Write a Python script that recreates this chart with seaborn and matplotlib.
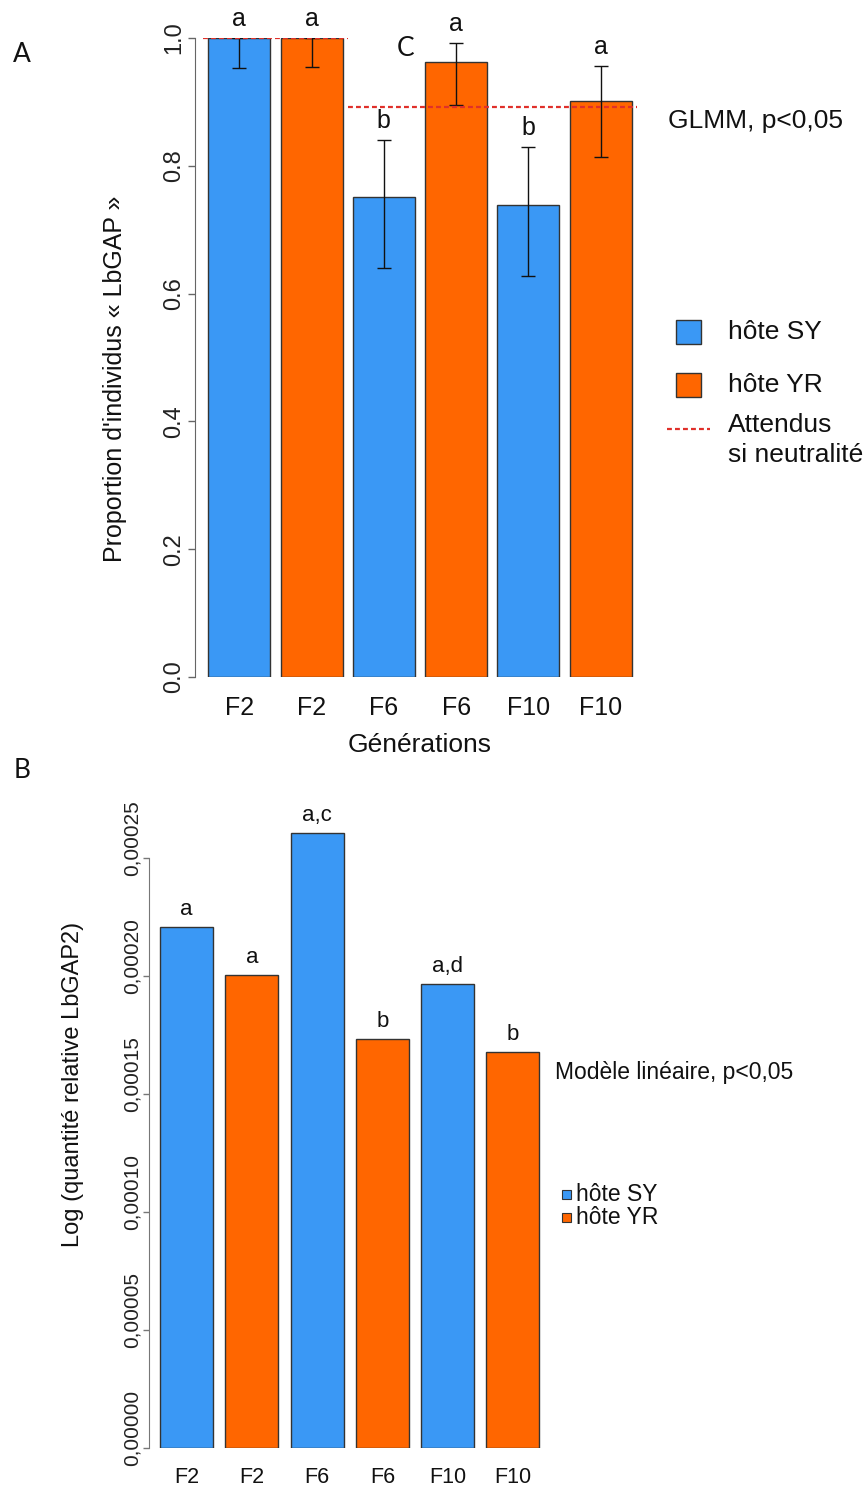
import matplotlib
matplotlib.use('Agg')
import matplotlib.pyplot as plt
from matplotlib.patches import Rectangle
from matplotlib.lines import Line2D
from matplotlib.transforms import ScaledTranslation
import pandas as pd
import seaborn as sns

generations = ['F2', 'F6', 'F10']
hotes = ['hôte SY', 'hôte YR']
couleurs = {'hôte SY': '#3A98F5', 'hôte YR': '#FF6600'}

# A : proportion d'individus "LbGAP" (+ IC)
prop_sy = [1.0, 0.751, 0.739]
prop_yr = [1.0, 0.962, 0.901]
bas_sy = [0.953, 0.640, 0.628]
haut_sy = [1.0, 0.840, 0.829]
bas_yr = [0.955, 0.895, 0.814]
haut_yr = [1.0, 0.992, 0.956]
lettres_a_sy = ['a', 'b', 'b']
lettres_a_yr = ['a', 'a', 'a']
attendus = [1.0, 0.892, 0.892]
yticks_a = [0.0, 0.2, 0.4, 0.6, 0.8, 1.0]

# B : log quantite relative LbGAP2
quant_sy = [0.0002208, 0.0002606, 0.0001966]
quant_yr = [0.0002004, 0.0001733, 0.0001678]
lettres_b_sy = ['a', 'a,c', 'a,d']
lettres_b_yr = ['a', 'b', 'b']
yticks_b = [0.0, 0.00005, 0.00010, 0.00015, 0.00020, 0.00025]
ylabels_b = ['0,00000', '0,00005', '0,00010', '0,00015', '0,00020', '0,00025']

dfA = pd.DataFrame({'generation': generations * 2,
                    'hote': ['hôte SY'] * 3 + ['hôte YR'] * 3,
                    'valeur': prop_sy + prop_yr,
                    'bas': bas_sy + bas_yr,
                    'haut': haut_sy + haut_yr,
                    'lettre': lettres_a_sy + lettres_a_yr})
dfB = pd.DataFrame({'generation': generations * 2,
                    'hote': ['hôte SY'] * 3 + ['hôte YR'] * 3,
                    'valeur': quant_sy + quant_yr,
                    'lettre': lettres_b_sy + lettres_b_yr})

sns.set_style('ticks')
plt.rcParams['font.family'] = ['Liberation Sans', 'DejaVu Sans']

W, H = 866, 1490
fig = plt.figure(figsize=(W / 100, H / 100), dpi=100)


def box(l, t, r, b):
    return [l / W, 1 - b / H, (r - l) / W, (b - t) / H]


def fx(x):
    return x / W


def fy(y):
    return 1 - y / H


def barres(ax, df):
    # centre x de chaque barre -> ligne du dataframe
    out = []
    for h, cont in enumerate(ax.containers):
        for bar in cont:
            xc = bar.get_x() + bar.get_width() / 2
            gi = int(round(xc))
            row = df[(df['generation'] == generations[gi]) & (df['hote'] == hotes[h])].iloc[0]
            out.append((xc, row))
    return sorted(out, key=lambda t: t[0])


# ---------------- panel A ----------------
axA = fig.add_axes(box(195, 38, 645, 677))
sns.barplot(data=dfA, x='generation', y='valeur', hue='hote', order=generations,
            hue_order=hotes, palette=couleurs, saturation=1, width=1.0, gap=0.144,
            edgecolor='#333333', linewidth=1, errorbar=None, legend=False, ax=axA)
infoA = barres(axA, dfA)
xs = [x for x, _ in infoA]
vals = [r['valeur'] for _, r in infoA]
axA.errorbar(xs, vals,
             yerr=[[r['valeur'] - r['bas'] for _, r in infoA],
                   [r['haut'] - r['valeur'] for _, r in infoA]],
             fmt='none', ecolor='#111111', elinewidth=1, capsize=5, capthick=1, zorder=4)
for x, r in infoA:
    axA.annotate(r['lettre'], (x, r['haut']), xytext=(0, 9), textcoords='offset points',
                 ha='center', va='baseline', fontsize=18, color='#111111', annotation_clip=False)
for i, v in enumerate(attendus):
    axA.hlines(v, i - 0.5, i + 0.5, colors='#E0302A', linestyles=(0, (2.2, 1.4)),
               linewidth=1.6, zorder=5)

axA.set_xlim(-0.557, 2.557)
axA.set_ylim(0, 1.0)
for s in ['top', 'right', 'bottom']:
    axA.spines[s].set_visible(False)
axA.spines['left'].set_bounds(0, 1.0)
axA.spines['left'].set_color('#666666')
axA.set_yticks(yticks_a)
axA.set_yticklabels([f'{t:.1f}' for t in yticks_a], rotation=90, va='center')
axA.tick_params(axis='y', left=True, length=5, width=1, color='#666666', pad=2,
                labelsize=17, labelcolor='#222222')
axA.set_xticks(xs)
axA.set_xticklabels([r['generation'] for _, r in infoA])
axA.tick_params(axis='x', bottom=False, length=0, pad=14, labelsize=18, labelcolor='#111111')
axA.set_xlabel('Générations', fontsize=19, labelpad=9, color='#111111')
axA.set_ylabel("Proportion d'individus « LbGAP »", fontsize=18, color='#111111')
axA.yaxis.set_label_coords(-0.151, 0.466)

fig.text(fx(668), fy(121), 'GLMM, p<0,05', fontsize=19, ha='left', va='center', color='#111111')
# legende A
for (t, b), h in zip([(320, 344), (373, 397)], hotes):
    fig.add_artist(Rectangle((fx(676), fy(b)), 25 / W, 24 / H, transform=fig.transFigure,
                             facecolor=couleurs[h], edgecolor='#333333', linewidth=1))
    fig.text(fx(728), fy((t + b) / 2), h, fontsize=19, ha='left', va='center', color='#111111')
fig.add_artist(Line2D([fx(667), fx(710)], [fy(429), fy(429)], transform=fig.transFigure,
                      color='#E0302A', linestyle=(0, (2.2, 1.4)), linewidth=1.6))
fig.text(fx(728), fy(440), 'Attendus\nsi neutralité', fontsize=19, ha='left', va='center',
         linespacing=1.3, color='#111111')

# ---------------- panel B ----------------
axB = fig.add_axes(box(149, 810.8, 545, 1448))
sns.barplot(data=dfB, x='generation', y='valeur', hue='hote', order=generations,
            hue_order=hotes, palette=couleurs, saturation=1, width=1.0, gap=0.188,
            edgecolor='#333333', linewidth=1, errorbar=None, legend=False, ax=axB)
infoB = barres(axB, dfB)
for x, r in infoB:
    axB.annotate(r['lettre'], (x, r['valeur']), xytext=(0, 8.5), textcoords='offset points',
                 ha='center', va='baseline', fontsize=16, color='#111111', annotation_clip=False)
axB.set_xlim(-0.538, 2.496)
axB.set_ylim(0, 0.00027)
for s in ['top', 'right', 'bottom']:
    axB.spines[s].set_visible(False)
axB.spines['left'].set_bounds(0, 0.00025)
axB.spines['left'].set_color('#777777')
axB.set_yticks(yticks_b)
axB.set_yticklabels(ylabels_b, rotation=90, va='center')
axB.tick_params(axis='y', left=True, length=4, width=1, color='#777777', pad=1,
                labelsize=15, labelcolor='#222222')
for lab in axB.get_yticklabels():
    lab.set_transform(lab.get_transform() + ScaledTranslation(0, 0.2, fig.dpi_scale_trans))
axB.set_xticks([x for x, _ in infoB])
axB.set_xticklabels([r['generation'] for _, r in infoB])
axB.tick_params(axis='x', bottom=False, length=0, pad=14, labelsize=15.5, labelcolor='#111111')
axB.set_xlabel('')
axB.set_ylabel('Log (quantité relative LbGAP2)', fontsize=17, color='#111111')
axB.yaxis.set_label_coords(-0.165, 0.57)

fig.text(fx(555), fy(1072), 'Modèle linéaire, p<0,05', fontsize=16.5, ha='left', va='center', color='#111111')
for (t, b), h in zip([(1190, 1199), (1213, 1222)], hotes):
    fig.add_artist(Rectangle((fx(562), fy(b)), 9 / W, 9 / H, transform=fig.transFigure,
                             facecolor=couleurs[h], edgecolor='#333333', linewidth=0.8))
    fig.text(fx(576), fy((t + b) / 2), h, fontsize=16.5, ha='left', va='center', color='#111111')

# reperes des panneaux
for lab, (x, y) in zip(['A', 'C', 'B'], [(13, 55), (397, 48), (14, 770)]):
    fig.text(fx(x), fy(y), lab, fontsize=19, family=['Lato', 'DejaVu Sans'],
             ha='left', va='center', color='#111111')

fig.savefig('out.png', dpi=100)
